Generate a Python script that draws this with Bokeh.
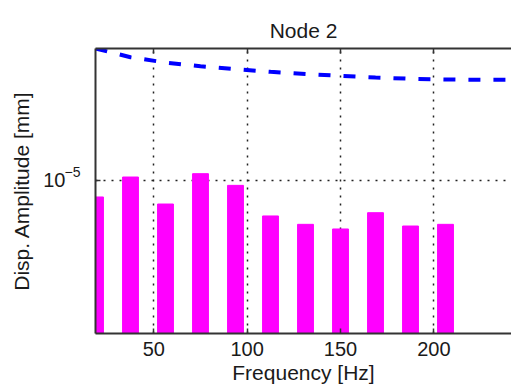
from bokeh.plotting import figure
from bokeh.models import FixedTicker, LinearAxis, LogAxis, CustomJSTickFormatter, Range1d
from bokeh.embed import file_html
from bokeh.resources import INLINE

# --- data ---
bar_freq = [18.75, 37.5, 56.25, 75.0, 93.75, 112.5, 131.25, 150.0, 168.75, 187.5, 206.25]
bar_amp = [8.4e-6, 1.036e-5, 7.8e-6, 1.073e-5, 9.49e-6, 6.88e-6, 6.30e-6, 6.00e-6, 7.12e-6, 6.19e-6, 6.30e-6]
line_freq = [18.75, 37.5, 56.25, 75.0, 93.75, 112.5, 131.25, 150.0, 168.75, 187.5, 206.25, 225.0, 243.75]
line_amp = [4.0e-5, 3.65e-5, 3.45e-5, 3.32e-5, 3.22e-5, 3.13e-5, 3.06e-5, 3.00e-5, 2.95e-5, 2.91e-5, 2.89e-5, 2.88e-5, 2.88e-5]
x_ticks = [50, 100, 150, 200]
y_ticks = [1e-5]
y_tick_base = "10"
y_tick_exp = "\u22125"
title_text = "Node 2"
x_label = "Frequency [Hz]"
y_label = "Disp. Amplitude [mm]"
x_start, x_end = 18.75, 241.6
y_start, y_end = 2e-6, 4e-5

FONT = "Liberation Sans"
TXT = "#1a1a1a"
AX = "#333333"

p = figure(width=511, height=388, y_axis_type="log",
           x_range=Range1d(x_start, x_end), y_range=Range1d(y_start, y_end),
           output_backend="svg", toolbar_location=None,
           min_border_left=95, min_border_right=0, min_border_top=48, min_border_bottom=55)
p.outline_line_color = None
p.background_fill_color = "white"
p.border_fill_color = "white"

p.vbar(x=bar_freq, top=bar_amp, bottom=1e-8, width=8.5, fill_color="#ff00ff", line_color="#ff00ff")
p.line(x=line_freq, y=line_amp, line_color="#0000ff", line_width=4, line_dash="12 13")

p.title.text = title_text
p.title.align = "center"
p.title.vertical_align = "top"
p.title.text_font = FONT
p.title.text_font_size = "21px"
p.title.text_font_style = "normal"
p.title.text_color = TXT
p.title.standoff = 10


def style_ticks(ax):
    ax.axis_line_color = AX
    ax.axis_line_width = 2
    ax.major_tick_in = 5
    ax.major_tick_out = 0
    ax.minor_tick_in = 0
    ax.minor_tick_out = 0
    ax.major_tick_line_color = AX
    ax.major_tick_line_width = 1.5


def style_text(ax):
    ax.major_label_text_font = FONT
    ax.major_label_text_font_size = "20px"
    ax.major_label_text_color = TXT
    ax.axis_label_text_font = FONT
    ax.axis_label_text_font_size = "21px"
    ax.axis_label_text_font_style = "normal"
    ax.axis_label_text_color = TXT


# bottom axis
xa = p.xaxis[0]
xa.ticker = FixedTicker(ticks=x_ticks)
xa.axis_label = x_label
style_ticks(xa)
style_text(xa)
xa.major_label_standoff = 8
xa.axis_label_standoff = 2

# inner left axis: carries the axis line, ticks and the exponent (superscript);
# a second blank line lifts the exponent above the tick
ya = p.yaxis[0]
ya.ticker = FixedTicker(ticks=y_ticks, minor_ticks=[])
ya.formatter = CustomJSTickFormatter(code="return '%s\\n\\u00a0';" % y_tick_exp)
style_ticks(ya)
style_text(ya)
ya.major_label_text_font_size = "14px"
ya.major_label_text_line_height = 1.1
ya.major_label_standoff = 15

# outer left axis: base "10" and the axis title
ya2 = LogAxis(ticker=FixedTicker(ticks=y_ticks, minor_ticks=[]),
              formatter=CustomJSTickFormatter(code="return '%s';" % y_tick_base))
style_text(ya2)
ya2.axis_line_color = None
ya2.major_tick_line_color = None
ya2.minor_tick_line_color = None
ya2.major_tick_in = 0
ya2.major_tick_out = 0
ya2.minor_tick_in = 0
ya2.minor_tick_out = 0
ya2.major_label_standoff = -4
ya2.axis_label = y_label
ya2.axis_label_standoff = 7
p.add_layout(ya2, "left")

# top border with inward ticks, no labels
top = LinearAxis(ticker=FixedTicker(ticks=x_ticks))
top.formatter = CustomJSTickFormatter(code="return '';")
style_ticks(top)
top.major_label_standoff = 0
p.add_layout(top, "above")

p.xgrid.ticker = FixedTicker(ticks=x_ticks)
p.ygrid.ticker = FixedTicker(ticks=y_ticks, minor_ticks=[])
for g in (p.xgrid[0], p.ygrid[0]):
    g.grid_line_color = "#222222"
    g.grid_line_width = 1.5
    g.grid_line_dash = "2 6"

open("out.html", "w").write(file_html(p, INLINE))
